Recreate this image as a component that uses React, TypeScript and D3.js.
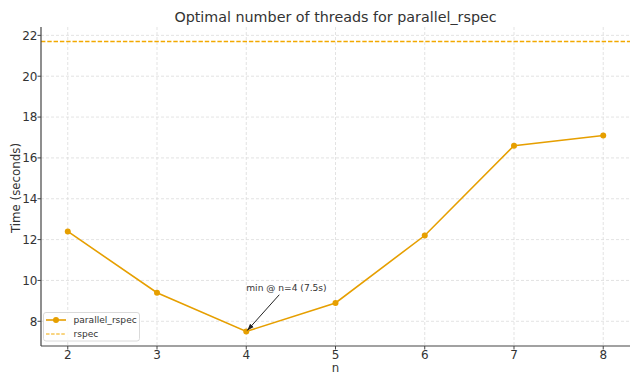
import React from "react";
import * as d3 from "d3";

const nValues = [2, 3, 4, 5, 6, 7, 8];
const parallelTimes = [12.4, 9.4, 7.5, 8.9, 12.2, 16.6, 17.1];
const rspecTime = 21.7;
const yTicks = [8, 10, 12, 14, 16, 18, 20, 22];
const title = "Optimal number of threads for parallel_rspec";
const annotationText = "min @ n=4 (7.5s)";
const legendLabels = ["parallel_rspec", "rspec"];

const W = 640, H = 384;
const M = { left: 41, right: 10, top: 27, bottom: 38 };
const color = "#e69f00";
const font = "DejaVu Sans, sans-serif";
const ink = "#333";

function T(props: { x: number; y: number; size: number; anchor?: string; rotate?: number; children: React.ReactNode }) {
  const { x, y, size, anchor = "start", rotate = 0, children } = props;
  return (
    <text transform={`translate(${x},${y}) rotate(${rotate})`} textAnchor={anchor} fontSize={size} fill={ink}>
      {children}
    </text>
  );
}

export default function App() {
  const x = d3.scaleLinear().domain([1.7, 8.3]).range([M.left, W - M.right]);
  const y = d3.scaleLinear().domain([6.79, 22.41]).range([H - M.bottom, M.top]);
  const line = d3.line<number>().x((_, i) => x(nValues[i])).y((d) => y(d));
  const minIdx = parallelTimes.indexOf(d3.min(parallelTimes)!);
  const mx = x(nValues[minIdx]), my = y(parallelTimes[minIdx]);
  const cx = (M.left + W - M.right) / 2;
  return (
    <svg width={W} height={H} style={{ position: "absolute", left: 0, top: 0, background: "#fff" }} fontFamily={font}>
      <defs>
        <marker id="arr" viewBox="0 0 10 10" refX="10" refY="5" markerWidth="7" markerHeight="7" markerUnits="userSpaceOnUse" orient="auto">
          <path d="M0,1.5 L10,5 L0,8.5 z" fill="#222" />
        </marker>
      </defs>
      <rect width={W} height={H} fill="#fff" />
      <T x={cx} y={21.5} size={14.3} anchor="middle">{title}</T>
      {nValues.map((n) => (
        <line key={"gx" + n} x1={x(n)} x2={x(n)} y1={M.top} y2={H - M.bottom} stroke="#dcdcdc" strokeWidth={0.8} strokeDasharray="3,2" />
      ))}
      {yTicks.map((t) => (
        <line key={"gy" + t} x1={M.left} x2={W - M.right} y1={y(t)} y2={y(t)} stroke="#dcdcdc" strokeWidth={0.8} strokeDasharray="3,2" />
      ))}
      <line x1={M.left} x2={W - M.right} y1={y(rspecTime)} y2={y(rspecTime)} stroke="#f2a900" strokeWidth={1.3} strokeDasharray="4.4,1.9" />
      <path d={line(parallelTimes)!} fill="none" stroke={color} strokeWidth={1.6} />
      {parallelTimes.map((v, i) => (
        <circle key={"p" + i} cx={x(nValues[i])} cy={y(v)} r={3} fill={color} />
      ))}
      <line x1={M.left} x2={M.left} y1={M.top} y2={H - M.bottom} stroke="#444" strokeWidth={1.2} />
      <line x1={M.left} x2={W - M.right} y1={H - M.bottom} y2={H - M.bottom} stroke="#444" strokeWidth={1.2} />
      {nValues.map((n) => (
        <g key={"tx" + n}>
          <line x1={x(n)} x2={x(n)} y1={H - M.bottom} y2={H - M.bottom + 3.5} stroke="#444" />
          <T x={x(n)} y={358.5} size={12} anchor="middle">{n}</T>
        </g>
      ))}
      {yTicks.map((t) => (
        <g key={"ty" + t}>
          <line x1={M.left - 3.5} x2={M.left} y1={y(t)} y2={y(t)} stroke="#444" />
          <T x={M.left - 3.5} y={y(t) + 4.3} size={12} anchor="end">{t}</T>
        </g>
      ))}
      <T x={cx} y={372} size={11.8} anchor="middle">n</T>
      <T x={19.5} y={188} size={11.8} anchor="middle" rotate={-90}>Time (seconds)</T>
      <T x={mx} y={290.5} size={9.1}>{annotationText}</T>
      <line x1={x(4.37)} x2={mx + 1} y1={y(9.3)} y2={my - 1} stroke="#222" strokeWidth={1} markerEnd="url(#arr)" />
      <g>
        <rect x={43.5} y={312.5} width={96} height={28.5} rx={2.5} fill="#fff" fillOpacity={0.85} stroke="#d0d0d0" strokeWidth={0.8} />
        <line x1={46} x2={66} y1={320} y2={320} stroke={color} strokeWidth={1.6} />
        <circle cx={56} cy={320} r={3} fill={color} />
        <T x={73.5} y={323.4} size={9.1}>{legendLabels[0]}</T>
        <line x1={46} x2={66} y1={334} y2={334} stroke="#f2a900" strokeWidth={1} strokeDasharray="3.5,1.6" />
        <T x={73.5} y={337.2} size={9.1}>{legendLabels[1]}</T>
      </g>
    </svg>
  );
}
